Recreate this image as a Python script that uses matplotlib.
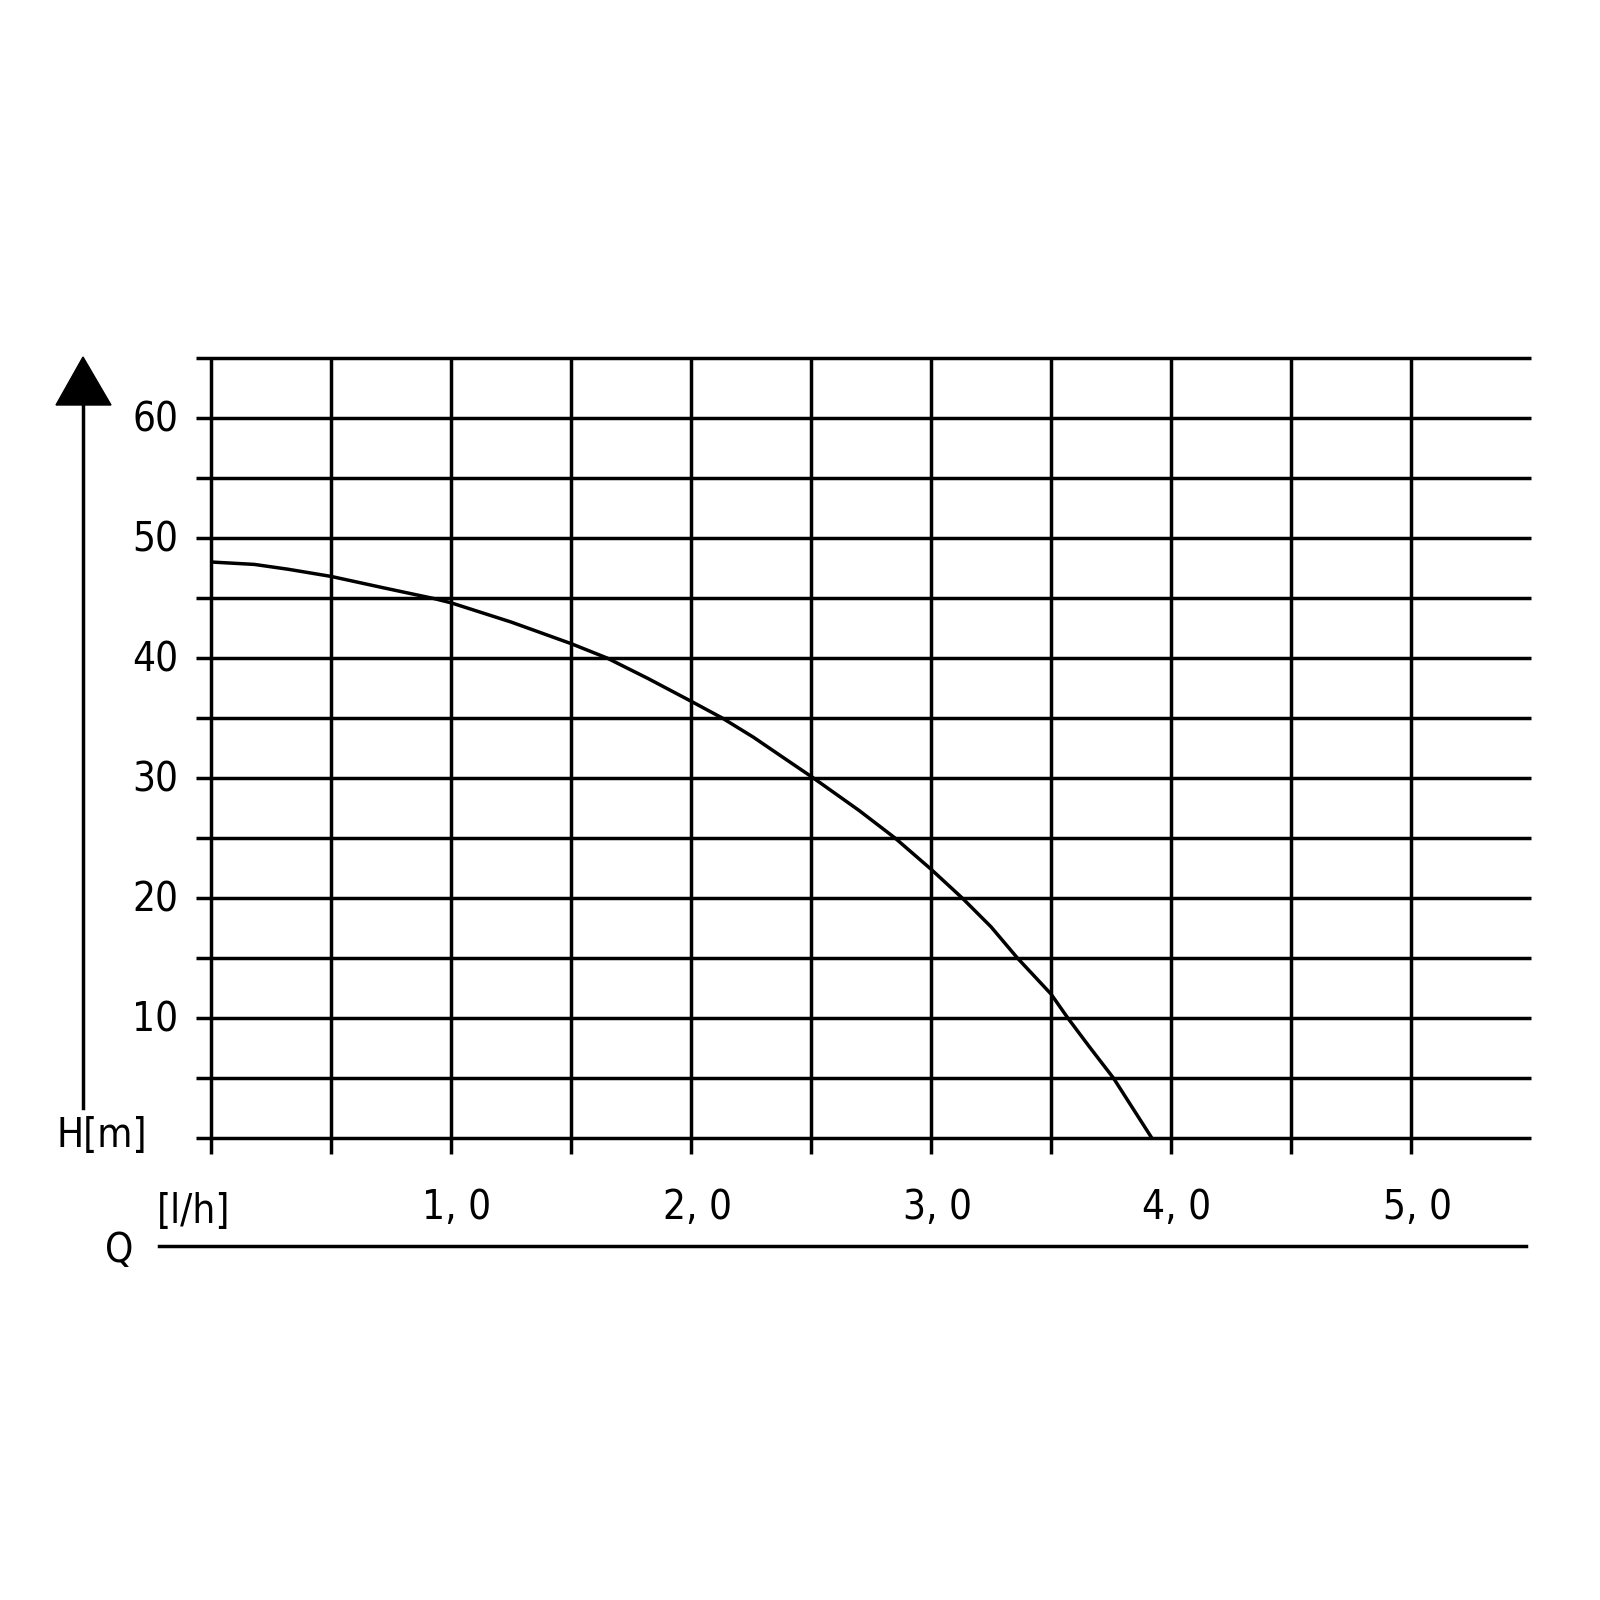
import matplotlib
matplotlib.use("Agg")
import matplotlib.pyplot as plt
from matplotlib.patches import Polygon
from matplotlib import font_manager

# ---- data ----
flow_q = [0.0, 0.18, 0.32, 0.5, 0.73, 0.93, 1.0, 1.25, 1.5, 1.65, 1.82, 2.0, 2.13, 2.26, 2.37,
          2.51, 2.70, 2.85, 3.0, 3.13, 3.25, 3.36, 3.5, 3.57, 3.66, 3.76, 3.84, 3.92]
head_h = [48.0, 47.8, 47.4, 46.8, 45.8, 44.95, 44.6, 43.0, 41.2, 40.0, 38.3, 36.4, 35.0, 33.4, 31.9,
          30.0, 27.3, 25.0, 22.4, 20.0, 17.6, 15.0, 12.0, 10.0, 7.6, 5.0, 2.5, 0.0]

x_grid = [0.0, 0.5, 1.0, 1.5, 2.0, 2.5, 3.0, 3.5, 4.0, 4.5, 5.0]
y_grid = [0, 5, 10, 15, 20, 25, 30, 35, 40, 45, 50, 55, 60, 65]
x_tick_vals = [1.0, 2.0, 3.0, 4.0, 5.0]
x_tick_labels = ["1, 0", "2, 0", "3, 0", "4, 0", "5, 0"]
y_tick_vals = [10, 20, 30, 40, 50, 60]
y_tick_labels = ["10", "20", "30", "40", "50", "60"]

# ---- layout (pixel based mapping of a 1600x1600 canvas) ----
X0, XS = 211.0, 240.0   # pixel of Q=0, pixels per unit
Y0, YS = 1138.0, 12.0   # pixel of H=0, pixels per unit


def px(p):
    return (p - X0) / XS


def py(p):
    return (Y0 - p) / YS


names = {f.name for f in font_manager.fontManager.ttflist}
condensed = [f for f in font_manager.fontManager.ttflist
             if f.name == "DejaVu Sans" and f.stretch in ("condensed", "semi-condensed")]
if "Liberation Sans Narrow" in names:
    FAM, STRETCH, SIZE = ["Liberation Sans Narrow", "DejaVu Sans"], "normal", 29
elif condensed:
    FAM, STRETCH, SIZE = ["DejaVu Sans"], "condensed", 29
else:
    FAM, STRETCH, SIZE = ["Liberation Sans", "DejaVu Sans"], "normal", 26

fig = plt.figure(figsize=(16, 16), dpi=100)
ax = fig.add_axes([0, 0, 1, 1])
ax.set_xlim(px(0), px(1600))
ax.set_ylim(py(1600), py(0))
ax.axis("off")

FONT = dict(family=FAM, fontstretch=STRETCH, fontsize=SIZE, color="black")
LW = 2.5

# grid
ax.hlines(y_grid, px(196), px(1531), colors="black", linewidth=LW)
ax.vlines(x_grid, py(1154), max(y_grid), colors="black", linewidth=LW)

# curve
ax.plot(flow_q, head_h, color="black", linewidth=LW, solid_capstyle="butt",
        solid_joinstyle="round")

# y tick labels
for v, lab in zip(y_tick_vals, y_tick_labels):
    ax.text(px(178), v - 0.25, lab, ha="right", va="center", **FONT)

# x tick labels
for v, lab in zip(x_tick_vals, x_tick_labels):
    ax.text(v + px(217) - px(211), py(1208), lab, ha="center", va="center", **FONT)

# vertical arrow
ax.plot([px(83), px(83)], [py(1108), py(400)], color="black", linewidth=LW)
tri = Polygon([[px(83), py(357)], [px(56), py(405)], [px(111), py(405)]],
              closed=True, facecolor="black", edgecolor="black")
ax.add_patch(tri)
ax.text(px(56), py(1136), "H[m]", ha="left", va="center", **FONT)

# bottom axis line and labels
ax.plot([px(159), px(1526)], [py(1246), py(1246)], color="black", linewidth=LW)
ax.text(px(157), py(1212), "[l/h]", ha="left", va="center", **FONT)
ax.text(px(119), py(1251), "Q", ha="center", va="center", **FONT)

fig.savefig("out.png", dpi=100, facecolor="white")
